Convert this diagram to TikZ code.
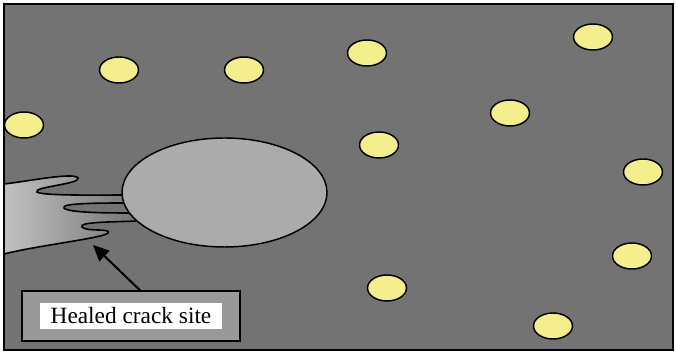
\documentclass[tikz,border=0pt]{standalone}
\usepackage{fontspec}
\setmainfont{Liberation Serif}
\usetikzlibrary{arrows.meta}

\definecolor{matrixgray}{RGB}{115,115,115}
\definecolor{voidgray}{RGB}{170,171,170}
\definecolor{cracklight}{RGB}{192,193,192}
\definecolor{capsule}{RGB}{244,239,140}
\definecolor{boxgray}{RGB}{153,153,153}

\begin{document}
\begin{tikzpicture}[x=0.75pt,y=0.75pt,yscale=-1,xscale=1,
    capsule dot/.style={draw=black, line width=1.1pt, fill=capsule},
    outline/.style={draw=black, line width=1.1pt}]
    \useasboundingbox (0,0) rectangle (676,352);

    %Matrix background
    \fill [matrixgray] (4,4) rectangle (673,350);

    %Healed crack, shaded and fading into the matrix
    \path [left color=cracklight, right color=matrixgray]
        (4,184) .. controls (30,181) and (74,172) .. (78,178)
        .. controls (81,184) and (32,187) .. (37,192)
        .. controls (42,196) and (100,195) .. (128,195)
        -- (130,203)
        .. controls (100,203) and (60,203) .. (64,208)
        .. controls (68,213) and (110,213) .. (134,213)
        -- (140,221)
        .. controls (110,222) and (78,222) .. (82,227)
        .. controls (86,232) and (112,228) .. (108,233)
        .. controls (104,238) and (40,245) .. (4,254) -- cycle ;
    %Crack edges
    \draw [line width=1.2pt] (4,184) .. controls (30,181) and (74,172) .. (78,178)
        .. controls (81,184) and (32,187) .. (37,192)
        .. controls (42,196) and (100,195) .. (128,195) ;
    \draw [line width=1.2pt] (130,203)
        .. controls (100,203) and (60,203) .. (64,208)
        .. controls (68,213) and (110,213) .. (134,213) ;
    \draw [line width=1.2pt] (140,221)
        .. controls (110,222) and (78,222) .. (82,227)
        .. controls (86,232) and (112,228) .. (108,233)
        .. controls (104,238) and (40,245) .. (4,254) ;

    %Void
    \draw [outline, fill=voidgray] (224.5,192.5) ellipse [x radius=102.5, y radius=54.5];

    %Healing agent capsules
    \foreach \cx/\cy in {119/70, 244/70, 367/53, 593/37, 510/113, 379/145,
                         24/125, 643/172, 632/256, 387/288, 553/326}
        \draw [capsule dot] (\cx,\cy) ellipse [x radius=19.5, y radius=13];

    %Frame
    \draw [outline] (4,4) rectangle (673,350);

    % Text Node
    \node [draw=black, line width=1.1pt, fill=boxgray, minimum width=163.5pt,
           minimum height=37.5pt, inner sep=0pt] (labelbox) at (131,316) {};
    \node [fill=white, minimum width=136.5pt, minimum height=19pt, inner sep=0pt,
           font=\fontsize{17.5}{20}\selectfont] (labeltext) at (131,316) {Healed crack site};

    %Pointer to the crack
    \coordinate (cracktip) at (93,245);
    \draw [line width=1.5pt, -{Triangle[length=12pt,width=11pt]}]
        ([xshift=6.75pt]labelbox.north) -- (cracktip);
\end{tikzpicture}
\end{document}
